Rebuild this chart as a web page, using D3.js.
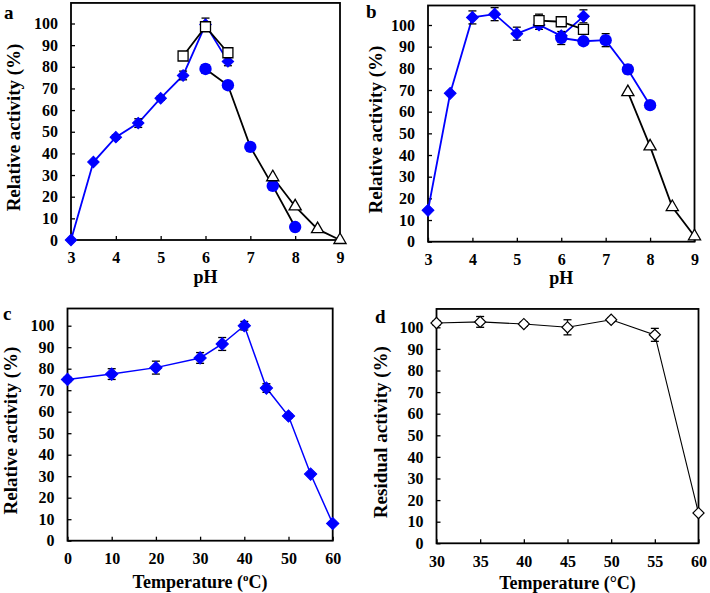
<!DOCTYPE html>
<html><head><meta charset="utf-8">
<script src="https://cdn.jsdelivr.net/npm/d3@7"></script>
<style>body{margin:0;background:#fff}svg{display:block}</style>
</head><body>
<svg id="chart" width="710" height="593"></svg>
<script>
// ---- Panel a (pH, relative activity) ----
const aDiamondX = [3, 3.5, 4, 4.5, 5, 5.5, 6, 6.5];
const aDiamondY = [0, 36, 47.5, 54, 65.5, 76, 99.5, 82.5];
const aDiamondE = [0, 0, 1, 2, 1, 2, 3, 2];
const aSquareX = [5.5, 6, 6.5];
const aSquareY = [85, 98.5, 86.5];
const aCircleX = [6, 6.5, 7, 7.5, 8];
const aCircleY = [79, 71.5, 43, 25, 6];
const aCircleE = [2, 0, 0, 0, 0];
const aTriX = [7.5, 8, 8.5, 9];
const aTriY = [29, 15.5, 5, 0];
// ---- Panel b ----
const bDiamondX = [3, 3.5, 4, 4.5, 5, 5.5, 6, 6.5];
const bDiamondY = [14.5, 68.5, 103.5, 105, 96, 100, 95, 104];
const bDiamondE = [0, 0, 3, 3, 3, 2, 0, 3];
const bSquareX = [5.5, 6, 6.5];
const bSquareY = [102, 101.5, 98];
const bSquareE = [3, 0, 0];
const bCircleX = [6, 6.5, 7, 7.5, 8];
const bCircleY = [94, 92.5, 93, 79.5, 63];
const bCircleE = [3, 0, 3, 2, 0];
const bTriX = [7.5, 8, 8.5, 9];
const bTriY = [69, 44, 16, 2.5];
// ---- Panel c (temperature, relative activity) ----
const cTempX = [0, 10, 20, 30, 35, 40, 45, 50, 55, 60];
const cTempY = [75, 77.5, 80.5, 85, 91.5, 100, 71, 58, 31, 8];
const cTempE = [1, 2.5, 3, 2.5, 3, 2, 2, 1, 0, 0];
// ---- Panel d (temperature, residual activity) ----
const dTempX = [30, 35, 40, 45, 50, 55, 60];
const dTempY = [102, 102.5, 101.5, 100, 103.5, 96.5, 14];
const dTempE = [1, 2.5, 1, 3.5, 1, 3, 0];
// ---- ticks ----
const phTicks = [3, 4, 5, 6, 7, 8, 9];
const yTicks = [0, 10, 20, 30, 40, 50, 60, 70, 80, 90, 100];
const cTicks = [0, 10, 20, 30, 40, 50, 60];
const dTicks = [30, 35, 40, 45, 50, 55, 60];

const BLUE = "#0000ff";
const svg = d3.select("#chart");
const FONT = "'Liberation Serif','Times New Roman',serif";

function zip(xs, ys, es) { return xs.map((x, i) => ({x, y: ys[i], e: es ? es[i] : 0})); }

function panel(cfg) {
  const g = svg.append("g");
  const x = d3.scaleLinear().domain(cfg.xDom).range(cfg.xRange);
  const y = d3.scaleLinear().domain([0, 100]).range(cfg.yRange);
  const left = x(cfg.xDom[0]), right = x(cfg.xDom[1]);
  const top = y(cfg.yTop), bottom = y(0);

  const xa = g.append("g").attr("transform", `translate(0,${bottom})`)
    .call(d3.axisBottom(x).tickValues(cfg.xTicks).tickFormat(d3.format("d")).tickSizeInner(-4).tickSizeOuter(0).tickPadding(12));
  const ya = g.append("g").attr("transform", `translate(${left},0)`)
    .call(d3.axisLeft(y).tickValues(yTicks).tickFormat(d3.format("d")).tickSizeInner(-4).tickSizeOuter(0).tickPadding(13));
  [xa, ya].forEach(a => {
    a.select(".domain").remove();
    a.selectAll("line").attr("stroke", "#000").attr("stroke-width", 1.3);
    a.selectAll("text").attr("font-family", FONT).attr("font-weight", "bold")
      .attr("font-size", 16).attr("fill", "#000");
  });
  g.append("rect").attr("x", left).attr("y", top).attr("width", right - left).attr("height", bottom - top)
    .attr("fill", "none").attr("stroke", "#000").attr("stroke-width", 1.8);

  // axis titles
  const xt = g.append("text").attr("x", (left + right) / 2).attr("y", cfg.xTitleY)
    .attr("text-anchor", "middle").attr("font-family", FONT).attr("font-weight", "bold").attr("font-size", 18);
  if (cfg.xTitleSup) {
    xt.append("tspan").text(cfg.xTitle[0]);
    xt.append("tspan").text(cfg.xTitle[1]).attr("font-size", 11).attr("dy", -7);
    xt.append("tspan").text(cfg.xTitle[2]).attr("dy", 7);
  } else xt.text(cfg.xTitle);
  g.append("text").attr("transform", `translate(${cfg.yTitleX},${(top + bottom) / 2 + 6}) rotate(-90)`)
    .attr("text-anchor", "middle").attr("dominant-baseline", "central")
    .attr("font-family", FONT).attr("font-weight", "bold").attr("font-size", 19).text(cfg.yTitle);
  g.append("text").attr("x", cfg.letterPos[0]).attr("y", cfg.letterPos[1])
    .attr("font-family", FONT).attr("font-weight", "bold").attr("font-size", 19).text(cfg.letter);

  const line = d3.line().x(d => x(d.x)).y(d => y(d.y));
  cfg.series.forEach(s => {
    g.append("path").datum(s.data).attr("d", line).attr("fill", "none")
      .attr("stroke", s.lineColor).attr("stroke-width", s.lw || 1.8);
  });
  // error bars
  cfg.series.forEach(s => {
    s.data.filter(d => d.e > 0).forEach(d => {
      const cx = x(d.x), y1 = y(d.y + d.e), y2 = y(d.y - d.e);
      g.append("line").attr("x1", cx).attr("x2", cx).attr("y1", y1).attr("y2", y2).attr("stroke", "#000").attr("stroke-width", 1.3);
      [y1, y2].forEach(yy => g.append("line").attr("x1", cx - 4).attr("x2", cx + 4).attr("y1", yy).attr("y2", yy).attr("stroke", "#000").attr("stroke-width", 1.3));
    });
  });
  // markers
  cfg.series.forEach(s => {
    const sym = d3.symbol().type(s.sym).size(s.size);
    g.append("g").selectAll("path").data(s.data).join("path")
      .attr("transform", d => `translate(${x(d.x)},${y(d.y)})` + (s.rot ? " rotate(45)" : ""))
      .attr("d", sym).attr("fill", s.fill).attr("stroke", s.stroke).attr("stroke-width", s.sw || 0);
  });
}

panel({
  xDom: [3, 9], xRange: [71, 340], yRange: [240, 23.5], yTop: 109.5, xTicks: phTicks,
  xTitle: "pH", xTitleY: 283, yTitle: "Relative activity (%)", yTitleX: 13, letter: "a", letterPos: [4, 19],
  series: [
    {data: zip(aDiamondX, aDiamondY, aDiamondE), lineColor: BLUE, sym: d3.symbolSquare, rot: true, size: 66, fill: BLUE, stroke: BLUE, sw: 1},
    {data: zip(aCircleX, aCircleY, aCircleE), lineColor: "#000", sym: d3.symbolCircle, size: 120, fill: BLUE, stroke: BLUE, sw: 0},
    {data: zip(aTriX, aTriY), lineColor: "#000", sym: d3.symbolTriangle, size: 64, fill: "#fff", stroke: "#000", sw: 1.3},
    {data: zip(aSquareX, aSquareY), lineColor: "#000", sym: d3.symbolSquare, size: 100, fill: "#fff", stroke: "#000", sw: 1.3}
  ]
});
panel({
  xDom: [3, 9], xRange: [428, 694.5], yRange: [241.7, 25], yTop: 109, xTicks: phTicks,
  xTitle: "pH", xTitleY: 284, yTitle: "Relative activity (%)", yTitleX: 375, letter: "b", letterPos: [366, 18],
  series: [
    {data: zip(bDiamondX, bDiamondY, bDiamondE), lineColor: BLUE, sym: d3.symbolSquare, rot: true, size: 70, fill: BLUE, stroke: BLUE, sw: 1},
    {data: zip(bSquareX, bSquareY, bSquareE), lineColor: "#000", sym: d3.symbolSquare, size: 100, fill: "#fff", stroke: "#000", sw: 1.3},
    {data: zip(bCircleX, bCircleY, bCircleE), lineColor: BLUE, sym: d3.symbolCircle, size: 120, fill: BLUE, stroke: BLUE, sw: 0},
    {data: zip(bTriX, bTriY), lineColor: "#000", sym: d3.symbolTriangle, size: 64, fill: "#fff", stroke: "#000", sw: 1.3}
  ]
});
panel({
  xDom: [0, 60], xRange: [67.5, 332.7], yRange: [540.7, 325.7], yTop: 108, xTicks: cTicks,
  xTitle: ["Temperature (", "o", "C)"], xTitleSup: true, xTitleY: 588, yTitle: "Relative activity (%)", yTitleX: 10,
  letter: "c", letterPos: [3, 320],
  series: [
    {data: zip(cTempX, cTempY, cTempE), lineColor: BLUE, lw: 1.5, sym: d3.symbolSquare, rot: true, size: 76, fill: BLUE, stroke: BLUE, sw: 1}
  ]
});
panel({
  xDom: [30, 60], xRange: [436.5, 698.5], yRange: [543.3, 327.3], yTop: 108.5, xTicks: dTicks,
  xTitle: "Temperature (°C)", xTitleY: 589, yTitle: "Residual activity (%)", yTitleX: 380,
  letter: "d", letterPos: [375, 323],
  series: [
    {data: zip(dTempX, dTempY, dTempE), lineColor: "#000", lw: 1.1, sym: d3.symbolSquare, rot: true, size: 62, fill: "#fff", stroke: "#000", sw: 1.2}
  ]
});
</script>
</body></html>
